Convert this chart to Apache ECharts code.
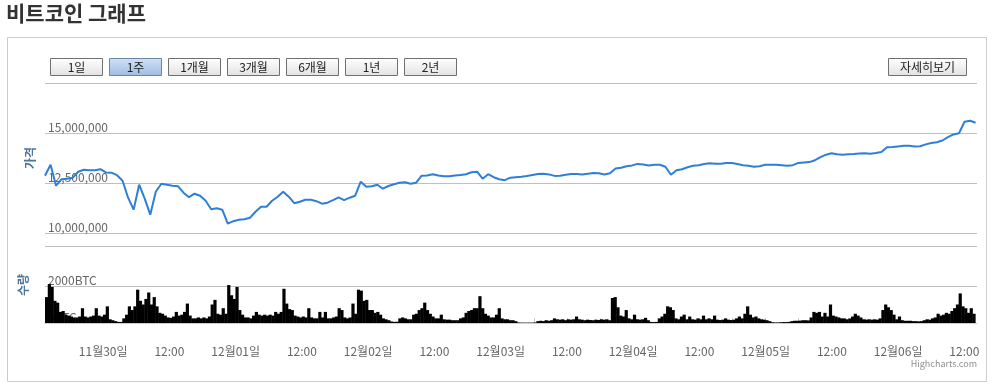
<!DOCTYPE html>
<html><head><meta charset="utf-8">
<script src="https://cdn.jsdelivr.net/npm/echarts@6/dist/echarts.min.js"></script>
<style>html,body{margin:0;padding:0;background:#fff;}#c{width:994px;height:388px;}</style>
</head><body><div id="c"></div>
<script>
const chartTitle = '비트코인 그래프';
const rangeButtons = ['1일','1주','1개월','3개월','6개월','1년','2년'];
const selectedButton = '1주';
const detailButton = '자세히보기';
const priceAxisTitle = '가격';
const volumeAxisTitle = '수량';
const creditText = 'Highcharts.com';
const seriesStart = [2017, 10, 29, 13, 45];
const axisEnd = [2017, 11, 6, 14, 0];
const priceStepMinutes = 60;
const volumeStepMinutes = 30;
const priceTicks = [10000000, 12500000, 15000000, 17500000];
const volumeTicks = [0, 2000];

const priceKRW = [
12865000,13415000,12365000,12690000,12715000,12765000,13065000,13165000,13140000,13140000,
13190000,13030000,13015000,12890000,12615000,11765000,11165000,12415000,11715000,10915000,
12065000,12465000,12415000,12365000,12340000,12015000,11790000,11965000,11865000,11615000,
11190000,11240000,11165000,10465000,10590000,10665000,10690000,10765000,11065000,11315000,
11315000,11615000,11815000,12065000,11815000,11490000,11565000,11665000,11665000,11590000,
11465000,11515000,11640000,11780000,11640000,11765000,11865000,12565000,12315000,12340000,
12415000,12215000,12350000,12435000,12515000,12540000,12465000,12515000,12865000,12880000,
12940000,12880000,12840000,12840000,12880000,12900000,12940000,13040000,13065000,12715000,
12940000,12790000,12690000,12640000,12765000,12790000,12815000,12850000,12900000,12950000,
12965000,12930000,12855000,12865000,12915000,12950000,12950000,12925000,12965000,13000000,
12990000,12930000,12990000,13225000,13265000,13340000,13380000,13455000,13430000,13375000,
13415000,13415000,13315000,12915000,13140000,13190000,13290000,13365000,13390000,13450000,
13490000,13465000,13465000,13500000,13500000,13450000,13390000,13365000,13315000,13340000,
13415000,13415000,13415000,13390000,13365000,13390000,13505000,13525000,13545000,13640000,
13790000,13915000,13990000,13940000,13915000,13935000,13955000,13980000,13990000,13965000,
14000000,14050000,14290000,14300000,14330000,14360000,14365000,14325000,14340000,14430000,
14500000,14540000,14625000,14790000,14930000,14990000,15565000,15615000,15515000
];

const volumeBTC = [
1400,2100,1950,1200,1100,600,650,450,400,350,
300,300,350,800,350,300,350,400,800,400,
350,450,900,200,150,100,60,60,250,450,
900,700,900,1800,1200,1000,1300,1650,1000,1400,
900,550,500,400,300,280,350,600,400,450,
600,1050,400,250,250,300,250,300,250,350,
1000,1250,500,450,800,500,2050,1500,1300,1950,
700,450,300,300,250,400,600,450,400,450,
400,450,400,600,500,600,1850,1050,750,700,
400,350,300,350,300,800,300,250,250,600,
300,600,250,250,300,350,800,700,300,250,
300,1050,500,1800,1750,1200,1250,700,700,550,
600,450,250,200,150,80,60,70,250,300,
250,200,200,450,500,700,800,1100,700,500,
350,250,250,450,200,180,180,150,150,150,
250,300,550,650,700,800,800,1450,800,500,
400,300,300,450,800,250,200,200,150,150,
100,30,20,20,20,20,20,30,100,120,
100,150,120,150,250,200,180,200,150,200,
180,200,350,200,180,150,180,160,150,180,
160,200,180,200,150,1350,1400,850,400,350,
700,250,200,450,200,180,200,280,150,60,
50,60,250,350,500,900,850,700,250,200,
350,450,200,350,200,180,250,200,400,200,
250,200,400,180,160,180,250,180,160,180,
250,350,250,500,900,450,300,350,250,200,
180,150,100,40,30,30,40,50,50,60,
100,120,120,130,150,150,140,300,600,550,
600,350,550,350,1000,400,350,300,250,250,
200,250,350,500,400,300,200,180,200,180,
200,180,250,700,1000,850,700,450,200,350,
150,120,120,120,100,100,90,100,150,200,
180,250,300,500,400,450,550,500,650,800,
1000,1600,900,800,550,800,500
];

const FONT = '"Noto Sans CJK KR", "Noto Sans", sans-serif';
const t0 = new Date(seriesStart[0], seriesStart[1], seriesStart[2], seriesStart[3], seriesStart[4]).getTime();
const tMax = new Date(axisEnd[0], axisEnd[1], axisEnd[2], axisEnd[3], axisEnd[4]).getTime();
const priceData = priceKRW.map((v, i) => [t0 + i * priceStepMinutes * 60000, v]);
const volumeData = volumeBTC.map((v, i) => [t0 + i * volumeStepMinutes * 60000, v]);
const HALF_DAY = 12 * 3600 * 1000;

function fmtX(val) {
  const d = new Date(val);
  if (d.getMinutes() !== 0) return '';
  if (d.getHours() === 0) return (d.getMonth() + 1) + '월' + String(d.getDate()).padStart(2, '0') + '일';
  if (d.getHours() === 12) return '12:00';
  return '';
}

const graphics = [];
graphics.push({type: 'text', left: 6, top: 3, z: 10, style: {text: chartTitle, font: 'bold 21px ' + FONT, fill: '#333'}});
graphics.push({type: 'rect', z: -10, shape: {x: 7.5, y: 37.5, width: 979, height: 344}, style: {fill: '#fff', stroke: '#ccc', lineWidth: 1}});
graphics.push({type: 'line', z: 10, shape: {x1: 45, y1: 246.5, x2: 977, y2: 246.5}, style: {stroke: '#C0C0C0', lineWidth: 1}});
function button(label, x, w, sel) {
  return {type: 'group', x: x, y: 58.5, z: 10, children: [
    {type: 'rect', shape: {x: 0, y: 0, width: w, height: 17}, style: {
      fill: sel ? new echarts.graphic.LinearGradient(0, 0, 0, 1, [{offset: 0, color: '#d2e2f5'}, {offset: 1, color: '#9dbbe4'}])
                : new echarts.graphic.LinearGradient(0, 0, 0, 1, [{offset: 0, color: '#ffffff'}, {offset: 1, color: '#e2e2e2'}]),
      stroke: sel ? '#6b85a8' : '#707070', lineWidth: 1}},
    {type: 'text', style: {x: w / 2, y: 9, text: label, align: 'center', verticalAlign: 'middle', font: '12px ' + FONT, fill: '#222'}}
  ]};
}
rangeButtons.forEach((b, i) => graphics.push(button(b, 50.5 + i * 59, 52, b === selectedButton)));
graphics.push(button(detailButton, 888.5, 78, false));
graphics.push({type: 'text', z: 10, style: {x: 977, y: 364, text: creditText, align: 'right', verticalAlign: 'middle', font: '9px ' + FONT, fill: '#909090'}});

const chart = echarts.init(document.getElementById('c'), null, {renderer: 'canvas'});
chart.setOption({
  animation: false,
  backgroundColor: '#fff',
  grid: [
    {left: 45, right: 17, top: 83, height: 150},
    {left: 45, right: 17, top: 247, height: 76}
  ],
  xAxis: [
    {type: 'time', gridIndex: 0, min: t0, max: tMax, show: false},
    {type: 'time', gridIndex: 1, min: t0, max: tMax, offset: 17,
     minInterval: HALF_DAY, maxInterval: HALF_DAY,
     axisLine: {lineStyle: {color: '#C0D0E0', width: 1}},
     axisTick: {inside: true, length: 5, lineStyle: {color: '#C0D0E0'}},
     axisLabel: {color: '#666', fontSize: 12, fontFamily: FONT, margin: 5, formatter: fmtX, showMinLabel: false, showMaxLabel: false},
     splitLine: {show: false}}
  ],
  yAxis: [
    {type: 'value', gridIndex: 0, min: priceTicks[0], max: priceTicks[priceTicks.length - 1], interval: priceTicks[1] - priceTicks[0],
     name: priceAxisTitle, nameLocation: 'middle', nameGap: 9, nameRotate: 90,
     nameTextStyle: {color: '#4d759e', fontWeight: 'bold', fontSize: 12, fontFamily: FONT},
     axisLine: {show: false}, axisTick: {show: false},
     axisLabel: {inside: true, verticalAlign: 'bottom', margin: 3, color: '#666', fontSize: 12, fontFamily: FONT,
       formatter: v => v >= priceTicks[priceTicks.length - 1] ? '' : v.toLocaleString('en-US')},
     splitLine: {lineStyle: {color: '#C0C0C0', width: 1}}},
    {type: 'value', gridIndex: 1, min: 0, max: 4108, interval: volumeTicks[1] - volumeTicks[0],
     name: volumeAxisTitle, nameLocation: 'middle', nameGap: 16, nameRotate: 90,
     nameTextStyle: {color: '#4d759e', fontWeight: 'bold', fontSize: 12, fontFamily: FONT},
     axisLine: {show: false}, axisTick: {show: false},
     axisLabel: {inside: true, verticalAlign: 'bottom', margin: 3, color: '#666', fontSize: 12, fontFamily: FONT,
       formatter: v => volumeTicks.indexOf(v) >= 0 ? v + 'BTC' : ''},
     splitLine: {lineStyle: {color: ['#C0C0C0', '#C0C0C0', 'rgba(0,0,0,0)', 'rgba(0,0,0,0)'], width: 1}}}
  ],
  series: [
    {type: 'line', xAxisIndex: 0, yAxisIndex: 0, data: priceData, showSymbol: false, z: 5,
     lineStyle: {color: '#2f7ed8', width: 2}, itemStyle: {color: '#2f7ed8'}},
    {type: 'bar', xAxisIndex: 1, yAxisIndex: 1, data: volumeData, barWidth: 3.2, z: 5,
     itemStyle: {color: '#000'}}
  ],
  graphic: graphics
});
</script></body></html>
